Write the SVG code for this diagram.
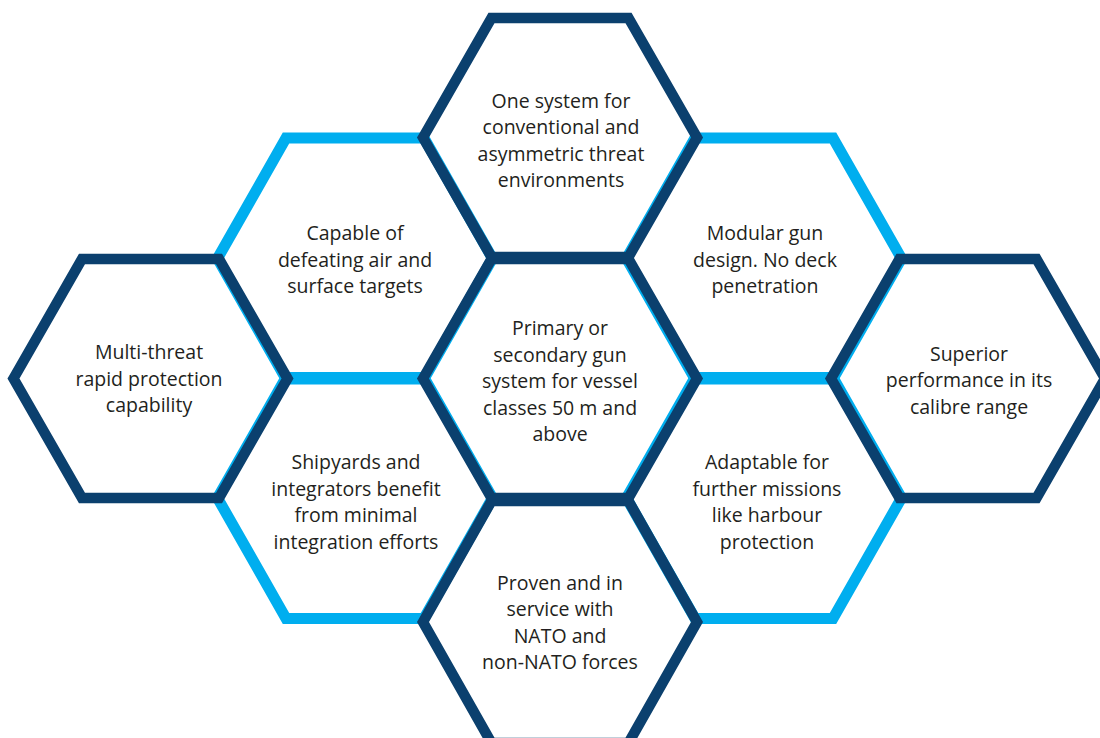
<svg xmlns="http://www.w3.org/2000/svg" width="1100" height="738" viewBox="0 0 1100 738">
<style>
.light{fill:none;stroke:#00aeef;stroke-width:11;stroke-linejoin:miter}
.dark{fill:none;stroke:#0b406e;stroke-width:10.5;stroke-linejoin:miter}
text{font-family:"Open Sans","Noto Sans","Liberation Sans",sans-serif;font-size:19.5px;fill:#231f20;text-anchor:middle}
</style>
<rect width="1100" height="738" fill="#ffffff"/>
<g id="connectors"/>
<g id="node-capable">
<polygon class="light" points="217.5,258.5 286,138 424,138 492.5,258.5 424,379 286,379"/>
<text x="355" y="240">Capable of</text>
<text x="355" y="266.5">defeating air and</text>
<text x="355" y="293">surface targets</text>
</g>
<g id="node-shipyards">
<polygon class="light" points="217.5,498 286,377.5 424,377.5 492.5,498 424,618.5 286,618.5"/>
<text x="356" y="469">Shipyards and</text>
<text x="356" y="495.5">integrators benefit</text>
<text x="356" y="522">from minimal</text>
<text x="356" y="548.5">integration efforts</text>
</g>
<g id="node-modular">
<polygon class="light" points="626.5,258.5 695,138 833,138 901.5,258.5 833,379 695,379"/>
<text x="765" y="240">Modular gun</text>
<text x="765" y="266.5">design. No deck</text>
<text x="765" y="293">penetration</text>
</g>
<g id="node-adaptable">
<polygon class="light" points="626.5,498 695,377.5 833,377.5 901.5,498 833,618.5 695,618.5"/>
<text x="767" y="469">Adaptable for</text>
<text x="767" y="495.5">further missions</text>
<text x="767" y="522">like harbour</text>
<text x="767" y="548.5">protection</text>
</g>
<g id="node-top">
<polygon class="dark" points="423,137.5 491.5,18 628.5,18 697,137.5 628.5,257 491.5,257"/>
<text x="561" y="107.5">One system for</text>
<text x="561" y="134">conventional and</text>
<text x="561" y="160.5">asymmetric threat</text>
<text x="561" y="187">environments</text>
</g>
<g id="node-center">
<polygon class="dark" points="423,378.5 491.5,259 628.5,259 697,378.5 628.5,498 491.5,498"/>
<text x="560" y="335">Primary or</text>
<text x="560" y="361.5">secondary gun</text>
<text x="560" y="388">system for vessel</text>
<text x="560" y="414.5">classes 50 m and</text>
<text x="560" y="441">above</text>
</g>
<g id="node-bottom">
<polygon class="dark" points="423,622 491.5,501 628.5,501 697,622 628.5,743 491.5,743"/>
<text x="560" y="589.5">Proven and in</text>
<text x="560" y="616">service with</text>
<text x="560" y="642.5">NATO and</text>
<text x="560" y="669">non-NATO forces</text>
</g>
<g id="node-farleft">
<polygon class="dark" points="13.5,378.5 82,259 219,259 287.5,378.5 219,498 82,498"/>
<text x="149" y="359">Multi-threat</text>
<text x="149" y="385.5">rapid protection</text>
<text x="149" y="412">capability</text>
</g>
<g id="node-farright">
<polygon class="dark" points="831,378.5 899.5,259 1036.5,259 1105,378.5 1036.5,498 899.5,498"/>
<text x="969" y="360.5">Superior</text>
<text x="969" y="387">performance in its</text>
<text x="969" y="413.5">calibre range</text>
</g>
</svg>
